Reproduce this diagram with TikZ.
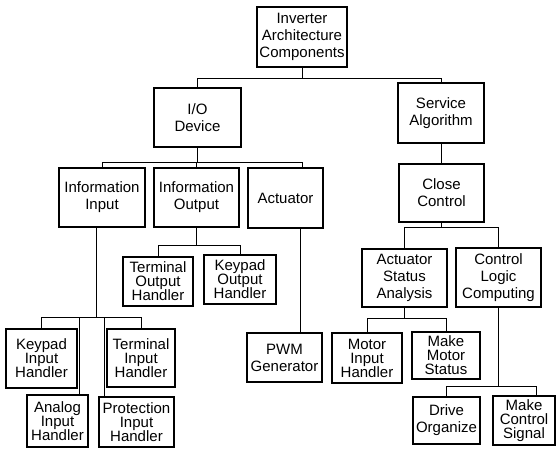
\documentclass[tikz,border=0pt]{standalone}
\usepackage{fontspec}
\setmainfont{Liberation Sans}

\begin{document}
\begin{tikzpicture}[
    x=1pt, y=-1pt,
    box/.style={rectangle, draw, line width=1.4pt, inner sep=0pt, align=center, font=\fontsize{15}{17}\selectfont},
    leaf/.style={box, font=\fontsize{15}{14}\selectfont},
    link/.style={line width=1pt}
]
\useasboundingbox (0,0) rectangle (560,449);
\node[box, minimum width=90pt, minimum height=60pt] (root) at (302,37) {Inverter\\Architecture\\Components};
\node[box, minimum width=87pt, minimum height=59pt] (io) at (197.5,117.5) {I/O\\Device};
\node[box, minimum width=86pt, minimum height=60pt] (serv) at (441,113) {Service\\Algorithm};
\node[box, minimum width=86pt, minimum height=59pt] (ininp) at (102,197.5) {Information\\Input};
\node[box, minimum width=85pt, minimum height=59pt] (inout) at (196.5,197.5) {Information\\Output};
\node[box, minimum width=75pt, minimum height=60pt] (act) at (285.5,198) {Actuator};
\node[box, minimum width=85pt, minimum height=58pt] (cc) at (441.5,193) {Close\\Control};
\node[leaf, minimum width=70pt, minimum height=49pt] (tout) at (158,281.5) {Terminal\\Output\\Handler};
\node[leaf, minimum width=72pt, minimum height=49pt] (kout) at (240,279.5) {Keypad\\Output\\Handler};
\node[box, minimum width=85pt, minimum height=58pt] (asa) at (404.5,278) {Actuator\\Status\\Analysis};
\node[box, minimum width=85pt, minimum height=59pt] (clc) at (498.5,277.5) {Control\\Logic\\Computing};
\node[leaf, minimum width=71pt, minimum height=59pt] (kin) at (41.5,358.5) {Keypad\\Input\\Handler};
\node[leaf, minimum width=68pt, minimum height=58pt] (tin) at (141,358) {Terminal\\Input\\Handler};
\node[leaf, minimum width=61pt, minimum height=52pt] (ana) at (57.5,421) {Analog\\Input\\Handler};
\node[leaf, minimum width=75pt, minimum height=50pt] (prot) at (136.5,422) {Protection\\Input\\Handler};
\node[box, minimum width=75pt, minimum height=49pt] (pwm) at (284.5,357.5) {PWM\\Generator};
\node[leaf, minimum width=70pt, minimum height=50pt] (mih) at (367,358) {Motor\\Input\\Handler};
\node[leaf, minimum width=68pt, minimum height=47pt] (mms) at (446,355.5) {Make\\Motor\\Status};
\node[box, minimum width=67pt, minimum height=47pt] (drv) at (446.5,420.5) {Drive\\Organize};
\node[leaf, minimum width=62pt, minimum height=49pt] (mcs) at (524,420.5) {Make\\Control\\Signal};

\draw[link] (root.south) -- ++(0,11) coordinate (rootbus);
\draw[link] (io.north) |- (rootbus) -| (serv.north);
\draw[link] (io.south) -- ++(0,15) coordinate (iobus);
\draw[link] (ininp.north) |- (iobus) -| ([xshift=16.5pt]act.north);
\draw[link] (inout.north) -- (inout.north |- iobus);
\draw[link] ([xshift=-6pt]ininp.south) -- ++(0,90) coordinate (inbus);
\draw[link] (kin.north) |- (inbus) -| (tin.north);
\draw[link] ([xshift=21.5pt]ana.north) -- ([xshift=21.5pt]ana.north |- inbus);
\draw[link] ([xshift=-32.5pt]prot.north) -- ([xshift=-32.5pt]prot.north |- inbus);
\draw[link] (inout.south) -- ++(0,18) coordinate (outbus);
\draw[link] (tout.north) |- (outbus) -| (kout.north);
\draw[link] ([xshift=15pt]act.south) -- ([xshift=15pt]act.south |- pwm.north);
\draw[link] (serv.south) -- (serv.south |- cc.north);
\draw[link] (cc.south) -- ++(0,5) coordinate (ccbus);
\draw[link] (asa.north) |- (ccbus) -| (clc.north);
\draw[link] (asa.south) -- ++(0,11) coordinate (asabus);
\draw[link] (mih.north) |- (asabus) -| (mms.north);
\draw[link] (clc.south) -- ++(0,79) coordinate (clcbus);
\draw[link] (drv.north) |- (clcbus) -| ([xshift=12pt]mcs.north);
\end{tikzpicture}
\end{document}
